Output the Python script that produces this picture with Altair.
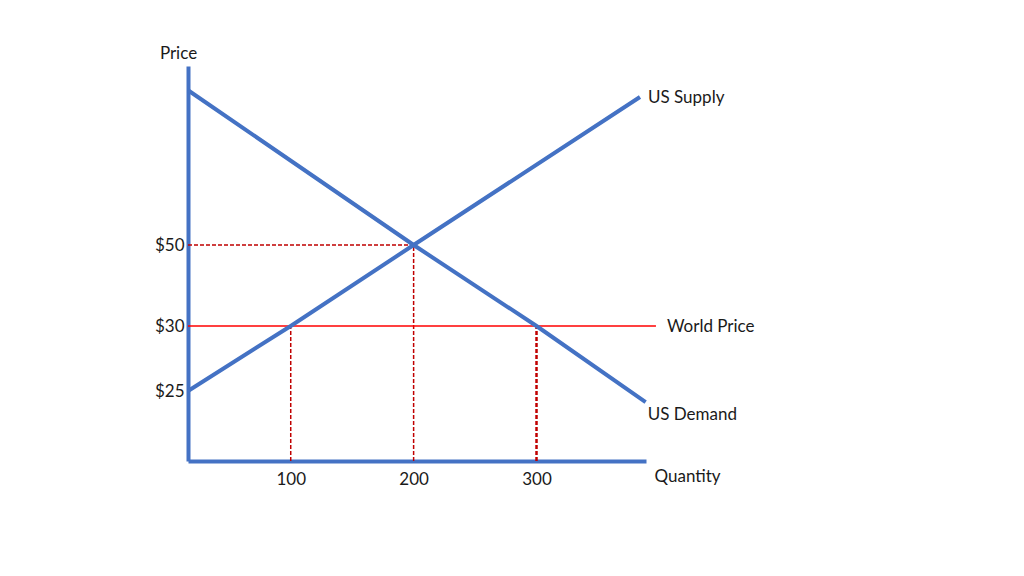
import altair as alt
import pandas as pd

# ---- data ----
quantity_domain = [16.4, 389.1]            # x-axis start / end (quantity units)
price_domain = [95, 50, 30, 25, 20]        # schematic (non-linear) price axis breakpoints

supply_q = [16.4, 100, 200, 384.2]
supply_p = [25, 30, 50, 87.2]

demand_q = [16.4, 200, 300, 388.8]
demand_p = [88.9, 50, 30, 24.2]

world_price = 30
world_q = [16.4, 397.2]

guide_q = [100, 200, 300]                  # dashed verticals
guide_top = [30, 50, 30]
guide_width = [1.5, 1.5, 2.5]
eq_q = 200
eq_p = 50

price_ticks = [25, 30, 50]
quantity_ticks = [100, 200, 300]

BLUE = "#4472C4"
RED = "#FF0000"
DARKRED = "#C00000"
TXT = "#1a1a1a"
FONT = "Lato"
FS = 17

xs = alt.Scale(domain=quantity_domain, nice=False, zero=False)
ys = alt.Scale(domain=price_domain, range=[0, 179, 260, 325, 395], nice=False, zero=False)

x_axis = alt.Axis(values=quantity_ticks, ticks=False, grid=False, domainColor=BLUE,
                  domainWidth=4, labelFont=FONT, labelFontSize=FS, labelColor=TXT,
                  labelPadding=10, title="Quantity", titleX=466, titleY=15,
                  titleAlign="left", titleBaseline="middle", titleFont=FONT,
                  titleFontSize=FS, titleFontWeight="normal", titleColor=TXT)
y_axis = alt.Axis(values=price_ticks, labelExpr="'$' + datum.value", ticks=False,
                  grid=False, domainColor=BLUE, domainWidth=4, labelFont=FONT,
                  labelFontSize=FS, labelColor=TXT, labelPadding=4, title="Price",
                  titleAngle=0, titleX=-10, titleY=-13, titleAlign="center",
                  titleBaseline="middle", titleFont=FONT, titleFontSize=FS,
                  titleFontWeight="normal", titleColor=TXT)

X = alt.X("q:Q", scale=xs, axis=x_axis)
Y = alt.Y("p:Q", scale=ys, axis=y_axis)

supply = pd.DataFrame({"q": supply_q, "p": supply_p, "o": range(len(supply_q))})
demand = pd.DataFrame({"q": demand_q, "p": demand_p, "o": range(len(demand_q))})
world = pd.DataFrame({"q": [world_q[0]], "q2": [world_q[1]], "p": [world_price]})
hdash = pd.DataFrame({"q": [quantity_domain[0]], "q2": [eq_q], "p": [eq_p]})
vdash = pd.DataFrame({"q": guide_q, "p": [price_domain[-1]] * 3, "p2": guide_top,
                      "w": guide_width})

supply_line = alt.Chart(supply).mark_line(color=BLUE, strokeWidth=4, clip=False).encode(
    x=X, y=Y, order="o:Q")
demand_line = alt.Chart(demand).mark_line(color=BLUE, strokeWidth=4, clip=False).encode(
    x=X, y=Y, order="o:Q")

world_rule = alt.Chart(world).mark_rule(color=RED, strokeWidth=1.3, clip=False).encode(
    x=X, x2="q2:Q", y=Y)
h_rule = alt.Chart(hdash).mark_rule(color=DARKRED, strokeWidth=1.5, strokeDash=[4, 2]).encode(
    x=X, x2="q2:Q", y=Y)
v_rule = alt.Chart(vdash).mark_rule(color=DARKRED, strokeDash=[4, 2]).encode(
    x=X, y=Y, y2="p2:Q", strokeWidth=alt.StrokeWidth("w:Q", scale=None, legend=None))

lbl_supply = alt.Chart(pd.DataFrame({"q": [supply_q[-1]], "p": [supply_p[-1]], "t": ["US Supply"]})).mark_text(
    align="left", baseline="middle", dx=8, dy=1, font=FONT, fontSize=FS, color=TXT, clip=False
).encode(x=X, y=Y, text="t:N")
lbl_world = alt.Chart(pd.DataFrame({"q": [world_q[1]], "p": [world_price], "t": ["World Price"]})).mark_text(
    align="left", baseline="middle", dx=11, dy=1, font=FONT, fontSize=FS, color=TXT, clip=False
).encode(x=X, y=Y, text="t:N")
lbl_demand = alt.Chart(pd.DataFrame({"q": [demand_q[-1]], "p": [demand_p[-1]], "t": ["US Demand"]})).mark_text(
    align="left", baseline="middle", dx=2, dy=13, font=FONT, fontSize=FS, color=TXT, clip=False
).encode(x=X, y=Y, text="t:N")

chart = alt.layer(
    h_rule, v_rule, world_rule, supply_line, demand_line, lbl_supply, lbl_world, lbl_demand
).properties(
    width=458, height=395,
    autosize=alt.AutoSizeParams(type="none"),
    padding={"left": 180, "top": 58, "right": 360, "bottom": 100},
    background="white",
).configure_view(stroke=None)

chart.save("out.html", embed_options={"renderer": "svg", "actions": False})
